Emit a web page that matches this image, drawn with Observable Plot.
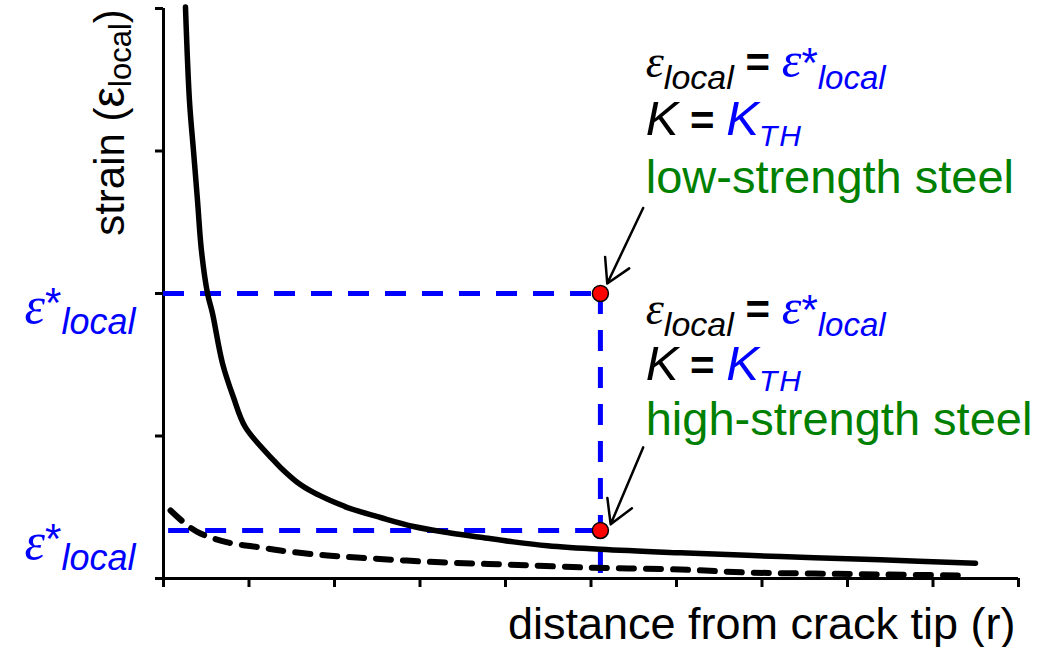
<!DOCTYPE html>
<html><head><meta charset="utf-8">
<script src="https://cdn.jsdelivr.net/npm/d3@7"></script>
<script src="https://cdn.jsdelivr.net/npm/@observablehq/plot@0.6"></script>
<style>body{margin:0;background:#fff}</style>
</head><body><div id="chart"></div>
<script>
// ---- data ----
const solidX = [0.257, 0.304, 0.351, 0.398, 0.444, 0.515, 0.573, 0.690, 0.819, 0.959, 1.287, 1.368, 1.567, 1.754, 1.953, 2.152, 2.538, 2.924, 3.322, 3.708, 4.094, 4.491, 5.111, 6.047, 7.216, 8.386, 9.497];
const solidY = [4.01, 3.35, 3.00, 2.65, 2.30, 2.00, 1.86, 1.51, 1.27, 1.06, 0.83, 0.779, 0.674, 0.604, 0.547, 0.498, 0.428, 0.365, 0.323, 0.290, 0.257, 0.230, 0.205, 0.180, 0.154, 0.131, 0.107];
const dashX = [0.082, 0.281, 0.433, 0.749, 1.135, 1.368, 1.918, 2.456, 3.041, 3.626, 4.023, 4.959, 6.047, 6.830, 7.602, 8.386, 9.404];
const dashY = [0.477, 0.372, 0.316, 0.253, 0.218, 0.196, 0.161, 0.140, 0.119, 0.105, 0.098, 0.077, 0.063, 0.042, 0.035, 0.028, 0.021];
const xTicks = [0, 1, 2, 3, 4, 5, 6, 7, 8, 9, 10];
const yTicks = [0, 1, 2, 3, 4];
const critX = 5.11;
const critY = [2, 0.337];
const critStart = [0, 0.06];
const arrowX1 = [5.61, 5.61], arrowY1 = [2.60, 0.92];
const arrowX2 = [5.19, 5.23], arrowY2 = [2.07, 0.38];
const noteKeys = ["eq", "k", "low", "eq", "k", "high"];
const noteY = [3.516, 3.109, 2.702, 1.789, 1.396, 1.004];
const noteX = 5.64;
const xLabel = "distance from crack tip (r)";
const yLabelPos = 3.2;

// ---- rich text pieces ----
const SERIF = "'Liberation Serif','Times New Roman',serif";
const SANS = "'Liberation Sans',Arial,sans-serif";
const BLUE = "#0000ff", GREEN = "#008000";
function ts(t, o = {}) {
  const a = [];
  if (o.ff) a.push(`font-family="${o.ff}"`);
  if (o.fs) a.push(`font-size="${o.fs}"`);
  if (o.it) a.push(`font-style="italic"`);
  if (o.fill) a.push(`fill="${o.fill}"`);
  if (o.dy) a.push(`dy="${o.dy}"`);
  if (o.ls) a.push(`letter-spacing="${o.ls}"`);
  if (o.fw) a.push(`font-weight="${o.fw}"`);
  return `<tspan ${a.join(" ")}>${t}</tspan>`;
}
const rich = {
  eq: ts("ε", {ff: SERIF, fs: 46, it: 1}) + ts("local", {fs: 34, it: 1, dy: 12}) +
      ts(" = ", {fs: 42, dy: -12, fw: "bold"}) + ts("ε", {ff: SERIF, fs: 50, it: 1, fill: BLUE}) +
      ts("*", {fs: 42, fill: BLUE}) + ts("local", {fs: 33, it: 1, fill: BLUE, dy: 12}),
  k: ts("K", {fs: 49, it: 1}) + ts(" = ", {fs: 42, fw: "bold"}) + ts("K", {fs: 49, it: 1, fill: BLUE}) +
     ts("TH", {fs: 30, it: 1, fill: BLUE, dy: 11, ls: 2}),
  low: ts("low-strength steel", {fs: 47, fill: GREEN}),
  high: ts("high-strength steel", {fs: 47, fill: GREEN}),
  estar: ts("ε", {ff: SERIF, fs: 52, it: 1}) + ts("*", {fs: 42, dy: -6}) + ts("local", {fs: 36, it: 1, dy: 17}),
  ylab: ts("strain (", {fs: 42}) + ts("ε", {fs: 46}) + ts("local", {fs: 31, dy: 7}) + ts(")", {fs: 42, dy: -7})
};

const solid = solidX.map((x, i) => ({x, y: solidY[i]}));
const dashed = dashX.map((x, i) => ({x, y: dashY[i]}));
const notes = noteKeys.map((k, i) => ({k, x: noteX, y: noteY[i]}));
const crit = critY.map((y, i) => ({x: critX, y, x1: critStart[i]}));
const arrows = arrowX1.map((x, i) => ({x1: x, y1: arrowY1[i], x2: arrowX2[i], y2: arrowY2[i]}));

const chart = Plot.plot({
  width: 1046, height: 647,
  marginLeft: 163, marginRight: 28, marginTop: 8, marginBottom: 69,
  x: {domain: [0, 10]},
  y: {domain: [0, 4]},
  style: {fontFamily: SANS, background: "#fff", color: "#000", overflow: "visible"},
  marks: [
    Plot.axisX(xTicks, {tickSize: 9, tickFormat: () => "", strokeWidth: 3, label: null}),
    Plot.axisY(yTicks, {tickSize: 8, tickFormat: () => "", strokeWidth: 3, label: null}),
    Plot.ruleX([0], {y1: 0, y2: 4, strokeWidth: 3}),
    Plot.ruleY([0], {x1: 0, x2: 10, strokeWidth: 3}),
    Plot.ruleY(crit, {y: "y", x1: "x1", x2: "x", stroke: BLUE, strokeWidth: 5, strokeDasharray: "21,16"}),
    Plot.ruleX([critX], {y1: critY[0], y2: 0, stroke: BLUE, strokeWidth: 5, strokeDasharray: "21,16"}),
    Plot.line(solid, {x: "x", y: "y", stroke: "#000", strokeWidth: 5.5, curve: "catmull-rom", strokeLinecap: "round"}),
    Plot.line(dashed, {x: "x", y: "y", stroke: "#000", strokeWidth: 6, curve: "catmull-rom", strokeDasharray: "15,12", strokeLinecap: "round"}),
    Plot.arrow(arrows, {x1: "x1", y1: "y1", x2: "x2", y2: "y2", stroke: "#000", strokeWidth: 2.5, headLength: 16, bend: 0}),
    Plot.dot(crit, {x: "x", y: "y", r: 8, fill: "red", stroke: "#000", strokeWidth: 1.5}),
    Plot.text(notes, {x: "x", y: "y", text: "k", textAnchor: "start", lineAnchor: "bottom", fill: "#000"}),
    Plot.text(crit, {y: "y", text: () => "estar", frameAnchor: "left", dx: -28, dy: 29, textAnchor: "end", lineAnchor: "bottom", fill: BLUE}),
    Plot.text([{k: "ylab", y: yLabelPos}], {y: "y", text: "k", frameAnchor: "left", dx: -40, rotate: -90, textAnchor: "middle", lineAnchor: "bottom", fill: "#000"}),
    Plot.text([xLabel], {frameAnchor: "bottom-right", dx: -3, dy: 60, textAnchor: "end", lineAnchor: "bottom", fontSize: 45, fill: "#000"})
  ]
});
chart.querySelectorAll("text").forEach(t => {
  const r = rich[t.textContent];
  if (r) t.innerHTML = r;
});
document.getElementById("chart").appendChild(chart);
</script>
</body></html>
